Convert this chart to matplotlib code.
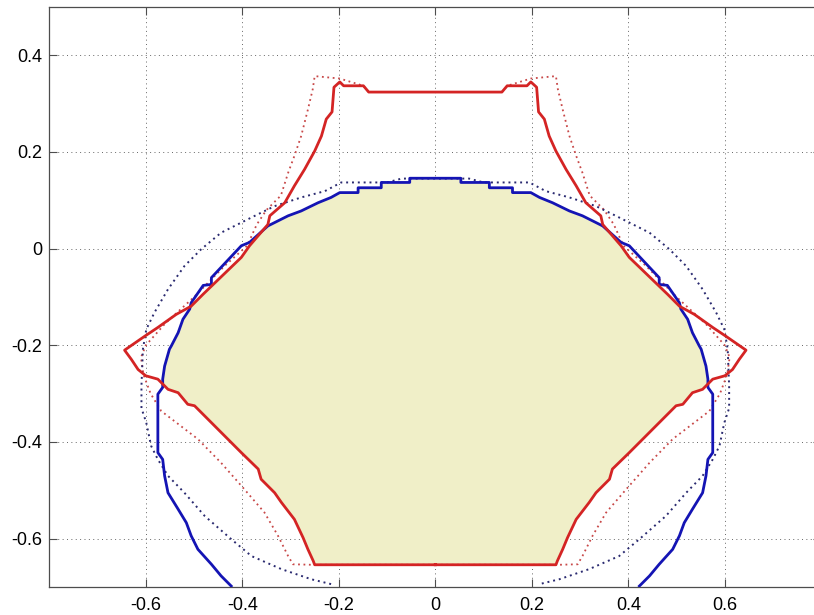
import numpy as np
import matplotlib
matplotlib.use("Agg")
import matplotlib.pyplot as plt
from matplotlib.patches import Polygon

plt.rcParams['font.family'] = ['Liberation Sans', 'DejaVu Sans']

# right halves of the (symmetric) curves, top (x=0) -> bottom
red_x = [0, 0.138, 0.149, 0.19, 0.198, 0.21, 0.214, 0.226, 0.236, 0.25, 0.271,
         0.292, 0.312, 0.343, 0.347, 0.385, 0.402, 0.481, 0.506, 0.537, 0.575,
         0.602, 0.644, 0.63, 0.616, 0.6, 0.575, 0.554, 0.533, 0.513, 0.499,
         0.402, 0.367, 0.361, 0.333, 0.319, 0.292, 0.274, 0.264, 0.253, 0.25, 0]
red_y = [0.324, 0.324, 0.337, 0.337, 0.345, 0.334, 0.283, 0.268, 0.233, 0.202, 0.164,
         0.13, 0.095, 0.068, 0.05, 0.006, -0.018, -0.094, -0.119, -0.136, -0.163,
         -0.181, -0.21, -0.229, -0.25, -0.263, -0.27, -0.291, -0.298, -0.322, -0.325,
         -0.422, -0.456, -0.477, -0.505, -0.525, -0.56, -0.598, -0.622, -0.646, -0.654, -0.654]

red_dot_x = [0, 0.138, 0.149, 0.198, 0.25, 0.254, 0.264, 0.278, 0.292, 0.305, 0.32,
             0.35, 0.37, 0.39, 0.437, 0.5, 0.56, 0.6, 0.61, 0.605, 0.59, 0.568,
             0.492, 0.444, 0.399, 0.354, 0.326, 0.305, 0.295, 0.257, 0]
red_dot_y = [0.324, 0.324, 0.337, 0.352, 0.357, 0.33, 0.288, 0.233, 0.192, 0.157, 0.11,
             0.08, 0.05, 0.006, -0.036, -0.1, -0.155, -0.2, -0.225, -0.26, -0.3, -0.336,
             -0.394, -0.443, -0.494, -0.546, -0.594, -0.636, -0.653, -0.654, -0.654]

blue_x = [0, 0.053, 0.053, 0.112, 0.112, 0.16, 0.16, 0.198, 0.216, 0.243, 0.278,
          0.305, 0.347, 0.385, 0.402, 0.464, 0.464, 0.481, 0.506, 0.509, 0.523,
          0.533, 0.547, 0.551, 0.561, 0.565, 0.565, 0.575, 0.575, 0.565, 0.561,
          0.554, 0.533, 0.516, 0.506, 0.492, 0.464, 0.444, 0.423]
blue_y = [0.1457, 0.1457, 0.137, 0.137, 0.126, 0.126, 0.116, 0.116, 0.106, 0.095, 0.078,
          0.068, 0.047, 0.013, 0.006, -0.06, -0.074, -0.076, -0.112, -0.125, -0.146,
          -0.174, -0.201, -0.208, -0.243, -0.27, -0.287, -0.301, -0.422, -0.436, -0.47,
          -0.505, -0.539, -0.567, -0.594, -0.622, -0.653, -0.677, -0.698]

blue_dot_x = [0, 0.07, 0.1, 0.195, 0.229, 0.278, 0.333, 0.374, 0.402, 0.444, 0.485,
              0.52, 0.554, 0.582, 0.599, 0.606, 0.609, 0.609, 0.599, 0.589, 0.575,
              0.554, 0.52, 0.478, 0.423, 0.381, 0.319, 0.257, 0.216]
blue_dot_y = [0.145, 0.145, 0.137, 0.137, 0.119, 0.106, 0.088, 0.068, 0.054, 0.033, -0.001,
              -0.036, -0.084, -0.132, -0.167, -0.208, -0.284, -0.33, -0.36, -0.408, -0.436,
              -0.47, -0.505, -0.553, -0.601, -0.636, -0.663, -0.684, -0.694]


def mirror(x, y):
    x = np.asarray(x); y = np.asarray(y)
    # left half reversed (bottom -> top), then right half (top -> bottom)
    return np.concatenate([-x[::-1], x[1:]]), np.concatenate([y[::-1], y[1:]])


rx, ry = mirror(red_x, red_y)
rdx, rdy = mirror(red_dot_x, red_dot_y)
bx, by = mirror(blue_x, blue_y)
bdx, bdy = mirror(blue_dot_x, blue_dot_y)

fig = plt.figure(figsize=(8.14, 6.15), dpi=100)
ax = fig.add_axes([49.3 / 814, 28 / 615, 772 / 814, 580 / 615])

# common area of the two solid contours
fill = ax.fill(bx, by, color='#F0EFC8', lw=0, zorder=1)[0]
clip = Polygon(np.column_stack([rx, ry]), closed=True, transform=ax.transData)
fill.set_clip_path(clip)

ax.plot(np.append(rdx, rdx[0]), np.append(rdy, rdy[0]), color='#C84848', lw=1.3,
        dashes=(1, 2), zorder=2)
ax.plot(bdx, bdy, color='#2A2A70', lw=1.4, dashes=(1, 2), zorder=2)
ax.plot(bx, by, '-', color='#1414B4', lw=2.0, zorder=3)
ax.plot(np.append(rx, rx[0]), np.append(ry, ry[0]), '-', color='#D42424', lw=2.0, zorder=4)

ax.set_xlim(-0.8, 0.8)
ax.set_ylim(-0.7, 0.5)
ax.set_xticks([-0.6, -0.4, -0.2, 0, 0.2, 0.4, 0.6])
ax.set_xticklabels(['-0.6', '-0.4', '-0.2', '0', '0.2', '0.4', '0.6'])
ax.set_yticks([-0.6, -0.4, -0.2, 0, 0.2, 0.4])
ax.set_yticklabels(['-0.6', '-0.4', '-0.2', '0', '0.2', '0.4'])
ax.grid(True, color='0.4', linewidth=0.7, dashes=(1, 3.5), zorder=0)
ax.set_axisbelow(True)
ax.tick_params(direction='in', length=6, labelsize=13, top=True, right=True,
               color='0.3', pad=7)
ax.tick_params(axis='y', pad=5)
for s in ax.spines.values():
    s.set_color('0.3')
    s.set_linewidth(0.9)

fig.savefig('out.png', dpi=100)
